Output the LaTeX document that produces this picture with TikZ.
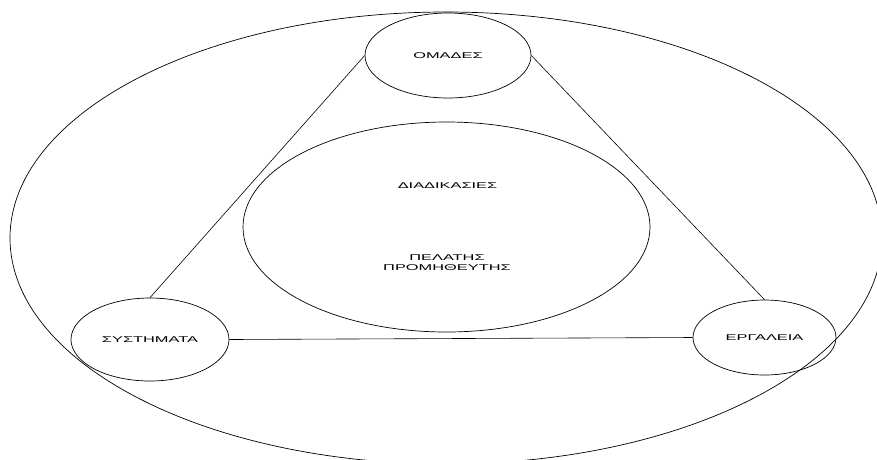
\documentclass[tikz,border=0pt]{standalone}
\usepackage{fontspec}
\newfontfamily\lblfont[FakeStretch=1.95]{Liberation Sans}
\usetikzlibrary{shapes.geometric}
\begin{document}
\begin{tikzpicture}[x=1pt,y=-1pt,
  outline/.style={draw=black,line width=0.7pt},
  bubble/.style={outline,ellipse,inner sep=0pt},
  lbl/.style={font=\lblfont\fontsize{8.4}{10}\selectfont,inner sep=0pt,align=center},
  link/.style={draw=black,line width=0.6pt}]
\useasboundingbox (0,0) rectangle (877,459);
\clip (0,0) rectangle (877,459);
% outer frame
\draw[outline] (446,238) ellipse [x radius=436pt, y radius=226pt];
% central process ellipse and its labels
\node[bubble,minimum width=407pt,minimum height=210pt] (core) at (446.5,227) {};
\node[lbl] (proc) at (447.5,185.5) {ΔΙΑΔΙΚΑΣΙΕΣ};
\node[lbl] (cust) at (447,263) {ΠΕΛΑΤΗΣ\\ΠΡΟΜΗΘΕΥΤΗΣ};
% the three corners
\node[bubble,lbl,minimum width=166pt,minimum height=85pt] (teams) at (448,55.5) {ΟΜΑΔΕΣ};
\node[bubble,lbl,minimum width=158pt,minimum height=83pt] (systems) at (150,339.5) {ΣΥΣΤΗΜΑΤΑ};
\node[bubble,lbl,minimum width=143pt,minimum height=75pt] (tools) at (764.5,337.5) {ΕΡΓΑΛΕΙΑ};
% triangle of links
\draw[link] (teams.west) -- (systems.north);
\draw[link] (teams.east) -- (tools.north);
\draw[link] (systems.east) -- (tools.west);
\end{tikzpicture}
\end{document}
